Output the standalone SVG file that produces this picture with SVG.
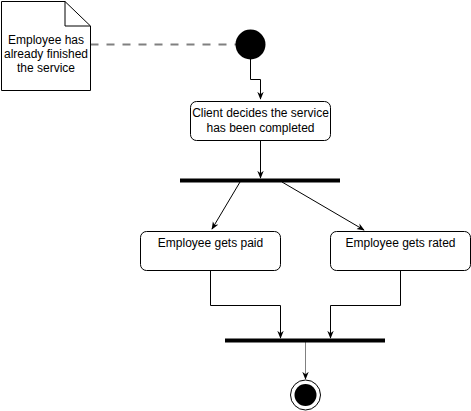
<svg xmlns="http://www.w3.org/2000/svg" width="471" height="411" viewBox="0 0 471 411">
<style>
.t{font-family:"Liberation Sans",Arial,sans-serif;font-size:12px;fill:#000;text-anchor:middle}
.box{fill:#fff;stroke:#000;stroke-width:1}
.edge{fill:none;stroke:#000;stroke-width:1}
.bar{stroke:#000;stroke-width:4}
</style>
<defs>
<marker id="ah" viewBox="0 0 10 10" refX="9" refY="5" markerWidth="8" markerHeight="8" markerUnits="userSpaceOnUse" orient="auto">
<path d="M0,1 L10,5 L0,9 L3,5 Z" fill="#000"/>
</marker>
<marker id="ahg" viewBox="0 0 10 10" refX="9" refY="5" markerWidth="8" markerHeight="8" markerUnits="userSpaceOnUse" orient="auto">
<path d="M0,1 L10,5 L0,9 L3,5 Z" fill="#000"/>
</marker>
</defs>
<rect width="471" height="411" fill="#fff"/>
<g id="connectors">
<path d="M90.5,44.5 H236" fill="none" stroke="#808080" stroke-width="2" stroke-dasharray="8,8"/>
<path class="edge" d="M250.5,59 V79.5 H260.5 V99" marker-end="url(#ah)"/>
<path class="edge" d="M260.5,140 V178" marker-end="url(#ah)"/>
<path class="edge" d="M240,182 L212,229" marker-end="url(#ah)"/>
<path class="edge" d="M282,182 L364,230" marker-end="url(#ah)"/>
<path class="edge" d="M210.5,270 V305.5 H280.5 V338" marker-end="url(#ah)"/>
<path class="edge" d="M400.5,270 V305.5 H330.5 V338" marker-end="url(#ah)"/>
<path d="M305.5,342 V379" fill="none" stroke="#808080" stroke-width="1" marker-end="url(#ahg)"/>
</g>
<g id="note">
<path class="box" d="M1.5,1.5 H65 L90.5,26 V90.5 H1.5 Z"/>
<path class="edge" d="M65,1.5 V26 H90.5"/>
<text class="t" x="46" y="44">Employee has</text>
<text class="t" x="46" y="58">already finished</text>
<text class="t" x="46" y="72">the service</text>
</g>
<g id="start"><circle cx="250.5" cy="44.5" r="15" fill="#000"/></g>
<g id="decide">
<rect class="box" x="190.5" y="101.5" width="140" height="39" rx="6"/>
<text class="t" x="260.5" y="117">Client decides the service</text>
<text class="t" x="260.5" y="132">has been completed</text>
</g>
<g id="fork"><line class="bar" x1="180" y1="180.5" x2="340" y2="180.5"/></g>
<g id="paid">
<rect class="box" x="140.5" y="231.5" width="140" height="39" rx="6"/>
<text class="t" x="210.5" y="247">Employee gets paid</text>
</g>
<g id="rated">
<rect class="box" x="330.5" y="231.5" width="140" height="39" rx="6"/>
<text class="t" x="400.5" y="247">Employee gets rated</text>
</g>
<g id="join"><line class="bar" x1="225" y1="340.5" x2="385" y2="340.5"/></g>
<g id="end">
<circle cx="305.5" cy="395" r="15" fill="#fff" stroke="#000" stroke-width="1"/>
<circle cx="305.5" cy="395" r="11" fill="#000"/>
</g>
</svg>
